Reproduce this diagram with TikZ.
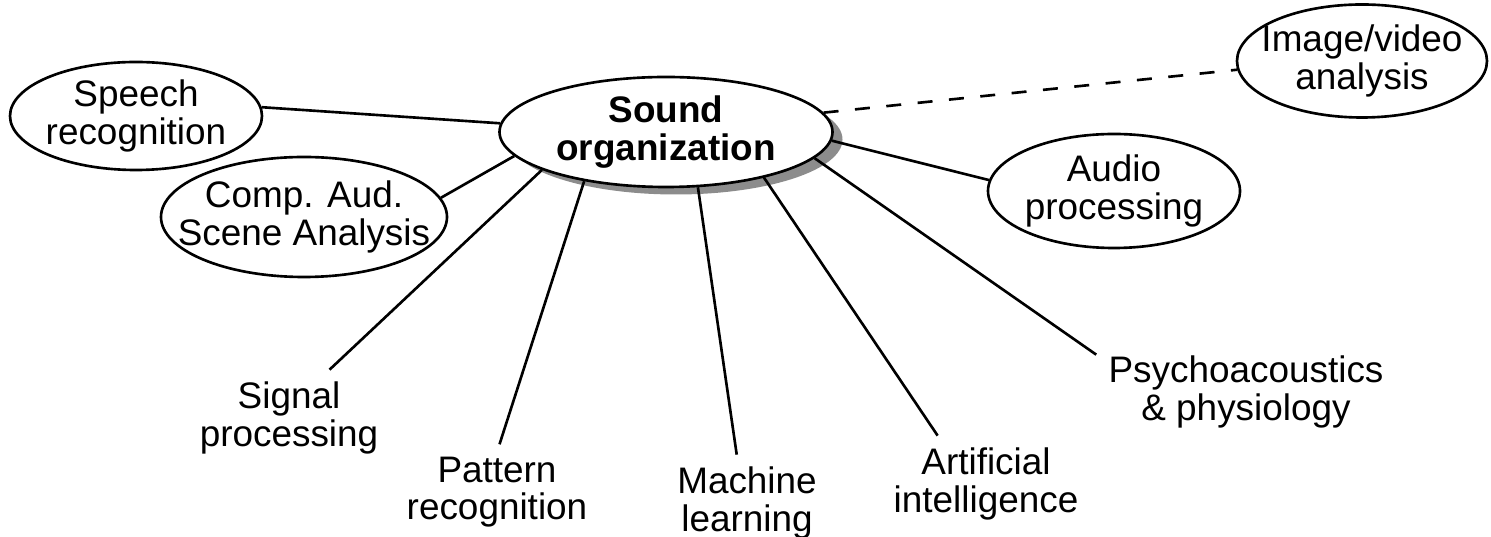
\documentclass[tikz,border=0pt]{standalone}
\usepackage{fontspec}
\setmainfont{Liberation Sans}
\usetikzlibrary{shapes.geometric,shadows}

\begin{document}
\begin{tikzpicture}[
	every node/.style={font=\fontsize{21}{21.4}\selectfont},
	topic/.style={ellipse, draw, fill=white, line width=1.5pt, inner xsep=-1cm, inner ysep=0pt, align=center},
	field/.style={align=center, inner sep=0.24cm},
	link/.style={line width=1.5pt},
	]
	\useasboundingbox (0,0) rectangle (29.82,10.74);

	\node[topic, minimum width=6.66cm, minimum height=2.2cm, font=\fontsize{21}{21.4}\selectfont\bfseries,
		drop shadow={shadow xshift=0.2cm, shadow yshift=-0.15cm, fill=black!45, opacity=1}] (snd) at (13.32,8.10) {Sound\\organization};

	\node[topic, minimum width=5.04cm, minimum height=2.16cm] (sp) at (2.72,8.42) {Speech\\recognition};
	\node[topic, minimum width=5.72cm, minimum height=2.4cm] (casa) at (6.08,6.40) {Comp. Aud.\\Scene Analysis};
	\node[topic, minimum width=5.0cm, minimum height=2.26cm] (img) at (27.24,9.52) {Image/video\\analysis};
	\node[topic, minimum width=5.04cm, minimum height=2.28cm] (aud) at (22.28,6.92) {Audio\\processing};

	\node[field] (sig) at (5.78,2.38) {Signal\\processing};
	\node[field] (pat) at (9.94,0.90) {Pattern\\recognition};
	\node[field] (mach) at (14.94,0.68) {Machine\\learning};
	\node[field] (art) at (19.72,1.06) {Artificial\\intelligence};
	\node[field] (psy) at (24.92,2.90) {Psychoacoustics\\\& physiology};

	\foreach \a/\b in {177/sp.4, -171/casa.8, -163/sig.50, -149/pat.87, -60/mach.102, -25/art.135, -10/psy.166, -3/aud.175}
		\draw[link] (snd.\a) -- (\b);
	\draw[link, dash pattern=on 0.3cm off 0.33cm] (snd.7) -- (img.184);
\end{tikzpicture}
\end{document}
